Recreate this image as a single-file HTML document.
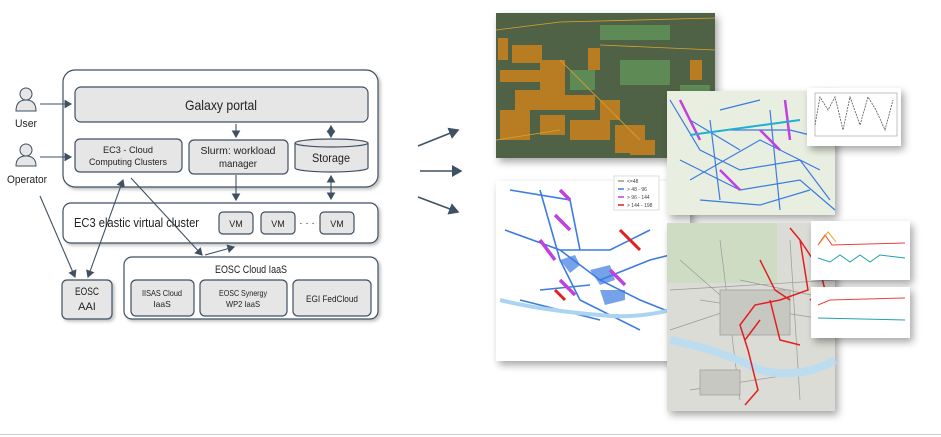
<!DOCTYPE html>
<html><head><meta charset="utf-8"><style>
body{margin:0;background:#fff;}
svg{display:block;font-family:"Liberation Sans",sans-serif;}
</style></head><body>
<svg width="941" height="437" viewBox="0 0 941 437">
<defs>
<marker id="ah" markerWidth="8" markerHeight="8" refX="6" refY="4" orient="auto-start-reverse"><path d="M0,0 L7,4 L0,8 z" fill="#3e5163"/></marker>
<filter id="sh" x="-10%" y="-10%" width="130%" height="130%"><feDropShadow dx="3" dy="4" stdDeviation="4" flood-color="#000" flood-opacity="0.35"/></filter>
<filter id="bs" x="-5%" y="-5%" width="115%" height="120%"><feDropShadow dx="2" dy="2" stdDeviation="1.5" flood-color="#000" flood-opacity="0.25"/></filter>
</defs>
<g stroke="#3e5163" fill="none" stroke-width="1.2">
<rect x="63" y="70" width="315" height="117" rx="12" fill="#fff" filter="url(#bs)"/>
<rect x="63" y="203" width="315" height="40" rx="8" fill="#fff" filter="url(#bs)"/>
<rect x="124" y="257" width="254" height="62" rx="8" fill="#fff" filter="url(#bs)"/>
<rect x="62" y="280" width="50" height="39" rx="5" fill="#e6e6e6" filter="url(#bs)"/>
<rect x="75" y="87" width="293" height="35" rx="6" fill="#e6e6e6"/>
<rect x="75" y="139" width="107" height="33" rx="5" fill="#e6e6e6"/>
<rect x="189" y="140" width="99" height="34" rx="5" fill="#e6e6e6"/>
<path d="M295,143 L295,168 A36.5,4 0 0 0 368,168 L368,143 A36.5,4 0 0 0 295,143 A36.5,4 0 0 0 368,143" fill="#e6e6e6"/>
<rect x="219" y="212" width="34" height="22" rx="4" fill="#e6e6e6"/>
<rect x="261" y="212" width="34" height="22" rx="4" fill="#e6e6e6"/>
<rect x="320" y="212" width="34" height="22" rx="4" fill="#e6e6e6"/>
<rect x="131" y="280" width="63" height="36" rx="5" fill="#e6e6e6"/>
<rect x="200" y="280" width="87" height="36" rx="5" fill="#e6e6e6"/>
<rect x="293" y="280" width="78" height="36" rx="5" fill="#e6e6e6"/>
<g marker-end="url(#ah)" stroke-width="1.1">
<line x1="40" y1="104" x2="71" y2="104"/>
<line x1="40" y1="157" x2="71" y2="157"/>
<line x1="236" y1="124" x2="236" y2="137"/>
<line x1="236" y1="175" x2="236" y2="200"/>
<line x1="331" y1="126" x2="331" y2="137" marker-start="url(#ah)"/>
<line x1="331" y1="176" x2="331" y2="199" marker-start="url(#ah)"/>
<line x1="40" y1="196" x2="75" y2="277"/>
<line x1="88" y1="277" x2="123" y2="180" marker-start="url(#ah)"/>
<line x1="131" y1="178" x2="202" y2="255"/>
<line x1="205" y1="255" x2="234" y2="247"/>
<line x1="418" y1="146" x2="458" y2="130" stroke-width="1.5"/>
<line x1="420" y1="171" x2="461" y2="171" stroke-width="1.5"/>
<line x1="418" y1="197" x2="458" y2="212" stroke-width="1.5"/>
</g>
</g>
<g fill="#e6e6e6" stroke="#3e5163" stroke-width="1">
<circle cx="26" cy="94" r="6"/><path d="M16,111 Q16,100 26,100 Q36,100 36,111 z"/>
</g>
<g fill="#e6e6e6" stroke="#3e5163" stroke-width="1">
<circle cx="26" cy="150" r="6"/><path d="M16,166 Q16,156 26,156 Q36,156 36,166 z"/>
</g>
<g fill="#222" text-anchor="middle" lengthAdjust="spacingAndGlyphs">
<text x="26" y="127" font-size="11" textLength="22" lengthAdjust="spacingAndGlyphs">User</text>
<text x="27" y="183" font-size="11" textLength="40" lengthAdjust="spacingAndGlyphs">Operator</text>
<text x="221" y="110" font-size="14" textLength="72" lengthAdjust="spacingAndGlyphs">Galaxy portal</text>
<text x="128" y="153" font-size="9.5" textLength="50" lengthAdjust="spacingAndGlyphs">EC3 - Cloud</text><text x="128" y="165" font-size="9.5" textLength="78" lengthAdjust="spacingAndGlyphs">Computing Clusters</text>
<text x="238" y="154" font-size="10.5" textLength="75" lengthAdjust="spacingAndGlyphs">Slurm: workload</text><text x="238" y="167" font-size="10.5" textLength="38" lengthAdjust="spacingAndGlyphs">manager</text>
<text x="331" y="162" font-size="12" textLength="38" lengthAdjust="spacingAndGlyphs">Storage</text>
<text x="74" y="227" font-size="12.5" text-anchor="start" textLength="125" lengthAdjust="spacingAndGlyphs">EC3 elastic virtual cluster</text>
<text x="236" y="227" font-size="9">VM</text><text x="278" y="227" font-size="9">VM</text><text x="337" y="227" font-size="9">VM</text>
<text x="307" y="226" font-size="10">· · ·</text>
<text x="251" y="273" font-size="11" textLength="72" lengthAdjust="spacingAndGlyphs">EOSC Cloud IaaS</text>
<text x="162" y="296" font-size="8.5" textLength="40" lengthAdjust="spacingAndGlyphs">IISAS Cloud</text><text x="162" y="307" font-size="8.5">IaaS</text>
<text x="243" y="296" font-size="8.5" textLength="48" lengthAdjust="spacingAndGlyphs">EOSC Synergy</text><text x="243" y="307" font-size="8.5" textLength="34" lengthAdjust="spacingAndGlyphs">WP2 IaaS</text>
<text x="332" y="302" font-size="9" textLength="52" lengthAdjust="spacingAndGlyphs">EGI FedCloud</text>
<text x="87" y="295" font-size="11" textLength="24" lengthAdjust="spacingAndGlyphs">EOSC</text><text x="87" y="310" font-size="11">AAI</text>
</g>
<!-- 3D city -->
<g filter="url(#sh)">
<rect x="496" y="13" width="219" height="145" fill="#4f6244"/>
</g>
<g fill="#b87d22">
<rect x="498" y="38" width="10" height="22"/><rect x="512" y="45" width="30" height="18"/><rect x="500" y="70" width="55" height="12"/>
<rect x="515" y="90" width="50" height="20"/><rect x="500" y="110" width="30" height="30"/><rect x="540" y="115" width="25" height="20"/>
<rect x="560" y="95" width="35" height="15"/><rect x="570" y="120" width="40" height="20"/><rect x="615" y="125" width="30" height="28"/>
<rect x="600" y="100" width="20" height="20"/><rect x="630" y="140" width="25" height="15"/><rect x="588" y="48" width="12" height="22"/>
<rect x="690" y="60" width="12" height="20"/><rect x="540" y="60" width="25" height="30"/>
</g>
<g fill="#5e8a55"><rect x="600" y="25" width="70" height="15"/><rect x="620" y="60" width="50" height="25"/><rect x="570" y="70" width="25" height="20"/><rect x="680" y="85" width="30" height="20"/></g>
<path d="M496,30 L560,22 L715,18 M560,60 L640,140 M496,140 L560,130 M600,45 L715,50" stroke="#e0a030" stroke-width="0.8" fill="none"/>
<!-- white map -->
<g filter="url(#sh)">
<rect x="496" y="181" width="194" height="180" fill="#fff"/>
</g>
<path d="M505,230 L560,250 L600,280 L640,300 L690,320 M540,190 L560,260 L580,300 M520,300 L600,320 M510,190 L570,200 L580,250 M560,250 L610,250 L650,230 M600,280 L650,260 L690,250 M580,300 L640,330 M540,290 L590,285" stroke="#3c7be0" stroke-width="1.6" fill="none"/>
<path d="M560,260 l15,-5 l5,10 l-10,8 z M590,270 l20,-5 l5,15 l-15,5 z M600,290 l25,0 l0,10 l-20,5z" fill="#3c7be0" opacity="0.7"/>
<path d="M560,190 l10,10 M555,215 L570,230 M540,240 L555,260 M560,280 L575,295 M610,270 L625,285" stroke="#c040e0" stroke-width="3.5" fill="none"/>
<path d="M620,230 L640,250 M555,290 L565,300" stroke="#e02020" stroke-width="3"/>
<path d="M500,300 Q540,310 600,315 Q640,320 690,305" stroke="#aad4f0" stroke-width="4" fill="none"/>
<rect x="614" y="176" width="45" height="34" fill="#fff" stroke="#ddd"/>
<g font-size="5" fill="#444"><text x="627" y="183">&lt;=48</text><text x="627" y="191">&gt; 48 - 96</text><text x="627" y="199">&gt; 96 - 144</text><text x="627" y="207">&gt; 144 - 198</text></g>
<g stroke-width="1.5"><line x1="618" y1="181" x2="624" y2="181" stroke="#999"/><line x1="618" y1="189" x2="624" y2="189" stroke="#3c7be0"/><line x1="618" y1="197" x2="624" y2="197" stroke="#c040e0"/><line x1="618" y1="205" x2="624" y2="205" stroke="#e02020"/></g>
<!-- blue map -->
<g filter="url(#sh)">
<rect x="667" y="91" width="168" height="124" fill="#e8eee0"/>
</g>
<path d="M670,100 L700,150 L740,170 L800,160 L830,200 M690,180 L760,140 L820,170 M710,120 L720,200 M770,110 L780,210 M680,160 L740,190 L800,180 L835,210 M720,110 L760,100 M700,200 L760,205 L810,190 M730,130 L790,130 L830,140 M690,120 L740,150" stroke="#3c7be0" stroke-width="1.2" fill="none"/>
<path d="M680,100 L700,140 M760,130 L780,150 M720,170 L740,190 M785,100 L790,140" stroke="#c040e0" stroke-width="2.5" fill="none"/>
<line x1="690" y1="135" x2="800" y2="120" stroke="#22b0d0" stroke-width="2"/>
<g filter="url(#sh)"><rect x="807" y="88" width="94" height="58" fill="#fff"/></g>
<rect x="815" y="93" width="82" height="43" fill="none" stroke="#999" stroke-width="0.6"/>
<path d="M815,125 L820,97 L828,110 L835,97 L843,130 L850,97 L860,125 L868,97 L876,110 L885,130 L893,100" stroke="#555" stroke-width="0.8" fill="none" stroke-dasharray="2,1"/>
<!-- red map -->
<g filter="url(#sh)">
<rect x="667" y="223" width="168" height="188" fill="#dcdcd6"/>
</g>
<rect x="667" y="223" width="110" height="60" fill="#cfdcc4"/>
<g stroke="#999" stroke-width="0.7" fill="none">
<path d="M670,290 L835,280 M680,260 L760,330 M700,300 L830,320 M690,390 L820,370 M720,240 L740,400 M790,240 L800,400 M670,330 L760,300 M740,280 L835,300"/>
<rect x="720" y="290" width="70" height="45" fill="#c8c8c2"/><rect x="700" y="370" width="40" height="25" fill="#c8c8c2"/>
</g>
<path d="M670,340 Q720,350 760,370 Q800,380 835,360" stroke="#bcdcf0" stroke-width="8" fill="none"/>
<path d="M790,228 L800,240 L808,290 L780,300 L755,305 L740,325 L748,350 L758,390 L745,405 M760,260 L775,290 L790,300 M800,240 L820,270 L825,290 L810,300 M770,300 L780,340 L800,345 M760,320 L745,340" stroke="#e02020" stroke-width="1.5" fill="none"/>
<g filter="url(#sh)"><rect x="811" y="221" width="99" height="59" fill="#fff"/>
<rect x="811" y="287" width="99" height="51" fill="#fff"/></g>
<path d="M818,245 L825,235 L832,245 L905,243" stroke="#f04040" fill="none"/>
<path d="M820,243 L828,232 L836,242" stroke="#f0a020" fill="none"/>
<path d="M818,258 L830,262 L840,255 L850,262 L860,255 L870,262 L880,255 L905,258" stroke="#20a0b0" fill="none"/>
<path d="M818,305 L830,300 L905,298" stroke="#f04040" fill="none"/>
<path d="M818,318 L905,320" stroke="#20a0b0" fill="none"/>
<line x1="0" y1="434.5" x2="941" y2="434.5" stroke="#ccc"/>
</svg>
</body></html>
